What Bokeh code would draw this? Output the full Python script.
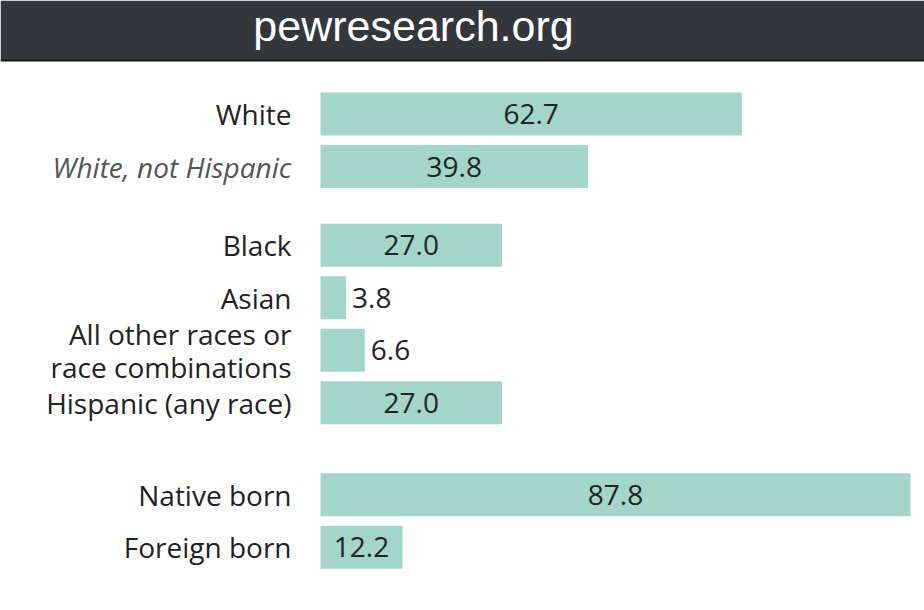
from bokeh.plotting import figure
from bokeh.models import Range1d, ColumnDataSource
from bokeh.core.properties import value
from bokeh.embed import file_html
from bokeh.resources import INLINE

# ---- data ----
categories = ["White", "White, not Hispanic", "Black", "Asian",
              "All other races or\nrace combinations", "Hispanic (any race)",
              "Native born", "Foreign born"]
values = [62.7, 39.8, 27.0, 3.8, 6.6, 27.0, 87.8, 12.2]
groups = [0, 0, 1, 1, 1, 1, 2, 2]
subcategory = [False, True, False, False, False, False, False, False]
site_name = "pewresearch.org"

# ---- layout ----
W, H = 924, 610
x0_px, x_max_px = 320, 910
ppx = (x_max_px - x0_px) / max(values)       # pixels per unit
row_px, row0_px = 52.5, 113.5                 # row step and first row centre
group_gap = {1: 0.5, 2: 0.75}
bar_h = 43 / row_px
header_px = 60

pos = []
y = 0.0
for i, g in enumerate(groups):
    if i > 0:
        y += 1 + (group_gap.get(g, 0) if g != groups[i - 1] else 0)
    pos.append(y)

def px_to_y(py):
    return (py - row0_px) / row_px

x_range = Range1d(-x0_px / ppx, (W - x0_px) / ppx)
y_range = Range1d(px_to_y(H), px_to_y(0))

p = figure(width=W, height=H, x_range=x_range, y_range=y_range,
           output_backend="svg", toolbar_location=None, min_border=0)
p.axis.visible = False
p.grid.visible = False
p.outline_line_color = None
p.background_fill_color = "white"
p.border_fill_color = "white"

bar_color = "#a3d5cb"
src = ColumnDataSource(dict(
    y=pos, v=values, cat=categories,
    style=["italic" if s else "normal" for s in subcategory],
    color=["#555555" if s else "#222222" for s in subcategory],
))
p.hbar(y="y", left=0, right="v", height=bar_h, source=src,
       fill_color=bar_color, line_color=None)

font = value("Open Sans")
fsize = "28px"
p.text(x=0, y="y", text="cat", source=src, x_offset=-29,
       text_align="right", text_baseline="middle", text_font=font,
       text_font_size=fsize, text_font_style="style", text_color="color",
       text_line_height=0.87)

inside = [v * ppx > 60 for v in values]
in_src = ColumnDataSource(dict(
    x=[v / 2 for v, ins in zip(values, inside) if ins],
    y=[yy for yy, ins in zip(pos, inside) if ins],
    t=[f"{v:.1f}" for v, ins in zip(values, inside) if ins]))
out_src = ColumnDataSource(dict(
    x=[v for v, ins in zip(values, inside) if not ins],
    y=[yy for yy, ins in zip(pos, inside) if not ins],
    t=[f"{v:.1f}" for v, ins in zip(values, inside) if not ins]))
p.text(x="x", y="y", text="t", source=in_src, text_align="center",
       text_baseline="middle", text_font=font, text_font_size=fsize,
       text_color="#222222")
p.text(x="x", y="y", text="t", source=out_src, x_offset=6, text_align="left",
       text_baseline="middle", text_font=font, text_font_size=fsize,
       text_color="#222222")

# header band
p.quad(left=x_range.start, right=x_range.end, top=px_to_y(0),
       bottom=px_to_y(header_px), fill_color="#33363a", line_color=None)
p.quad(left=x_range.start, right=x_range.end, top=px_to_y(header_px - 1),
       bottom=px_to_y(header_px + 1), fill_color="#1a1a1a", line_color=None)
p.text(x=[(413 - x0_px) / ppx], y=[px_to_y(25)], text=[site_name],
       text_align="center", text_baseline="middle",
       text_font=value("Liberation Sans"), text_font_size="43px",
       text_color="white")

open("out.html", "w").write(file_html(p, INLINE))
